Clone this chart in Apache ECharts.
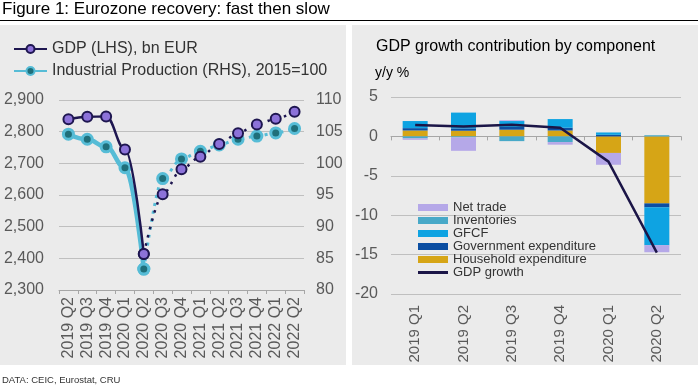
<!DOCTYPE html>
<html><head><meta charset="utf-8">
<script src="https://cdn.jsdelivr.net/npm/echarts@6/dist/echarts.min.js"></script>
<style>html,body{margin:0;padding:0;background:#fff;}#c{width:698px;height:387px;}</style>
</head><body><div id="c"></div>
<script>
// ---- Left chart data ----
const quarters = ['2019 Q2','2019 Q3','2019 Q4','2020 Q1','2020 Q2','2020 Q3','2020 Q4','2021 Q1','2021 Q2','2021 Q3','2021 Q4','2022 Q1','2022 Q2'];
const gdpLevel = [2839, 2847, 2848, 2744, 2414, 2602, 2681, 2721, 2761, 2795, 2823, 2841, 2863];
const ipIndex = [104.6, 103.8, 102.6, 99.3, 83.3, 97.6, 100.7, 101.9, 102.9, 103.8, 104.3, 104.8, 105.5];
const lastActualIndex = 4; // solid up to 2020 Q2, dotted afterwards

// ---- Right chart data ----
const compQuarters = ['2019 Q1','2019 Q2','2019 Q3','2019 Q4','2020 Q1','2020 Q2'];
const household = [0.75, 0.72, 0.85, 0.75, -2.1, -8.5];
const government = [0.3, 0.3, 0.35, 0.35, 0.2, -0.5];
const gfcf = [0.9, 2.0, 0.75, 1.1, 0.3, -4.8];
const inventories = [-0.25, -0.13, -0.6, -0.72, 0, 0.15];
const netTrade = [-0.18, -1.7, 0.1, -0.33, -1.5, -0.9];
const gdpGrowth = [1.45, 1.27, 1.48, 1.1, -3.2, -14.75];

const GDP_NAME = 'GDP (LHS), bn EUR';
const IP_NAME = 'Industrial Production (RHS), 2015=100';

const solidPart = a => a.map((v, i) => i <= lastActualIndex ? v : '-');
const dottedPart = a => a.map((v, i) => i >= lastActualIndex ? v : '-');

const navy = '#1e1650';
const purple = '#8c72d9';
const teal = '#56bcd6';
const darkTeal = '#1f6f7a';
const gridCol = '#bfbfbf';
const axisCol = '#a6a6a6';
const labelCol = '#595959';
const FONT = 'Liberation Sans, Arial, sans-serif';

const chart = echarts.init(document.getElementById('c'));

const gdpMarker = {color: purple, borderColor: navy, borderWidth: 2};
const ipMarker = {color: darkTeal, borderColor: teal, borderWidth: 3};

const option = {
  animation: false,
  textStyle: {fontFamily: FONT},
  graphic: [
    {type: 'rect', z: -100, silent: true, shape: {x: 0, y: 25, width: 346, height: 340}, style: {fill: '#ebebeb'}},
    {type: 'rect', z: -100, silent: true, shape: {x: 352, y: 25, width: 346, height: 340}, style: {fill: '#ebebeb'}},
    {type: 'text', x: 2, y: 1, style: {text: 'Figure 1: Eurozone recovery: fast then slow', font: '17px ' + FONT, fill: '#000'}},
    {type: 'line', shape: {x1: 0, y1: 20.5, x2: 698, y2: 20.5}, style: {stroke: '#000', lineWidth: 1}},
    {type: 'text', x: 375, y: 66, style: {text: 'y/y %', font: '14px ' + FONT, fill: '#000'}},
    {type: 'text', x: 2, y: 375, style: {text: 'DATA: CEIC, Eurostat, CRU', font: '9.5px ' + FONT, fill: '#333'}}
  ],
  title: [{
    text: 'GDP growth contribution by component',
    left: 376, top: 39, padding: 0,
    textStyle: {fontSize: 16, fontWeight: 'normal', color: '#000', fontFamily: FONT}
  }],
  legend: [
    {
      data: [GDP_NAME, IP_NAME],
      orient: 'vertical', left: 13, top: 41, padding: 0,
      itemWidth: 33, itemHeight: 10, itemGap: 6,
      textStyle: {fontSize: 16, color: '#333', fontFamily: FONT}
    },
    {
      data: [
        {name: 'Net trade', icon: 'rect'},
        {name: 'Inventories', icon: 'rect'},
        {name: 'GFCF', icon: 'rect'},
        {name: 'Government expenditure', icon: 'rect'},
        {name: 'Household expenditure', icon: 'rect'},
        {name: 'GDP growth', icon: 'path://M0,0L10,0L10,1L0,1Z'}
      ],
      orient: 'vertical', left: 418, top: 201, padding: 0,
      itemWidth: 30, itemHeight: 7, itemGap: 0,
      textStyle: {fontSize: 13, color: '#333', fontFamily: FONT, lineHeight: 13}
    }
  ],
  grid: [
    {left: 59, width: 245, top: 100, height: 190},
    {left: 391, width: 290, top: 97, height: 197}
  ],
  xAxis: [
    {
      gridIndex: 0, type: 'category', data: quarters, boundaryGap: true,
      axisLine: {lineStyle: {color: axisCol}},
      axisTick: {show: true, interval: 0, length: 4, lineStyle: {color: axisCol}},
      axisLabel: {interval: 0, rotate: 90, fontSize: 16, color: labelCol, margin: 7, fontFamily: FONT}
    },
    {
      gridIndex: 1, type: 'category', data: compQuarters, position: 'bottom',
      axisLine: {show: false, onZero: false},
      axisTick: {show: false},
      axisLabel: {interval: 0, rotate: 90, fontSize: 15, color: labelCol, margin: 11, fontFamily: FONT}
    },
    {
      gridIndex: 1, type: 'category', data: compQuarters, position: 'bottom',
      axisLine: {show: true, onZero: true, lineStyle: {color: axisCol}},
      axisTick: {show: true, interval: 0, length: 4, lineStyle: {color: axisCol}},
      axisLabel: {show: false}
    }
  ],
  yAxis: [
    {
      gridIndex: 0, type: 'value', min: 2300, max: 2900, interval: 100,
      axisLine: {show: false}, axisTick: {show: false},
      splitLine: {lineStyle: {color: gridCol}},
      axisLabel: {fontSize: 16, color: labelCol, margin: 15, fontFamily: FONT,
        formatter: v => v.toLocaleString('en-US')}
    },
    {
      gridIndex: 0, type: 'value', position: 'right', min: 80, max: 110, interval: 5,
      axisLine: {show: false}, axisTick: {show: false}, splitLine: {show: false},
      axisLabel: {fontSize: 16, color: labelCol, margin: 12, fontFamily: FONT}
    },
    {
      gridIndex: 1, type: 'value', min: -20, max: 5, interval: 5,
      axisLine: {show: false}, axisTick: {show: false},
      splitLine: {lineStyle: {color: gridCol}},
      axisLabel: {fontSize: 16, color: labelCol, margin: 13, fontFamily: FONT}
    }
  ],
  series: [
    {
      name: IP_NAME, type: 'line', xAxisIndex: 0, yAxisIndex: 1,
      data: solidPart(ipIndex), smooth: 0.4, smoothMonotone: 'x',
      symbol: 'circle', symbolSize: 10, itemStyle: ipMarker,
      lineStyle: {color: teal, width: 4.5}, z: 3
    },
    {
      name: IP_NAME, type: 'line', xAxisIndex: 0, yAxisIndex: 1,
      data: dottedPart(ipIndex), smooth: 0.3, smoothMonotone: 'x',
      symbol: 'circle', symbolSize: 10, itemStyle: ipMarker,
      lineStyle: {color: teal, width: 3, type: [3, 5]}, z: 3
    },
    {
      name: GDP_NAME, type: 'line', xAxisIndex: 0, yAxisIndex: 0,
      data: solidPart(gdpLevel), smooth: 0.4, smoothMonotone: 'x',
      symbol: 'circle', symbolSize: 10, itemStyle: gdpMarker,
      lineStyle: {color: navy, width: 2.5}, z: 4
    },
    {
      name: GDP_NAME, type: 'line', xAxisIndex: 0, yAxisIndex: 0,
      data: dottedPart(gdpLevel), smooth: 0.3, smoothMonotone: 'x',
      symbol: 'circle', symbolSize: 10, itemStyle: gdpMarker,
      lineStyle: {color: navy, width: 2.5, type: [2.5, 6]}, z: 4
    },
    {name: 'Household expenditure', type: 'bar', stack: 'c', xAxisIndex: 1, yAxisIndex: 2, data: household, barWidth: 25, itemStyle: {color: '#d6a516'}},
    {name: 'Government expenditure', type: 'bar', stack: 'c', xAxisIndex: 1, yAxisIndex: 2, data: government, barWidth: 25, itemStyle: {color: '#0b4ea2'}},
    {name: 'GFCF', type: 'bar', stack: 'c', xAxisIndex: 1, yAxisIndex: 2, data: gfcf, barWidth: 25, itemStyle: {color: '#0ea3e2'}},
    {name: 'Inventories', type: 'bar', stack: 'c', xAxisIndex: 1, yAxisIndex: 2, data: inventories, barWidth: 25, itemStyle: {color: '#48a9c8'}},
    {name: 'Net trade', type: 'bar', stack: 'c', xAxisIndex: 1, yAxisIndex: 2, data: netTrade, barWidth: 25, itemStyle: {color: '#b5a8e8'}},
    {
      name: 'GDP growth', type: 'line', xAxisIndex: 1, yAxisIndex: 2, data: gdpGrowth,
      symbol: 'none', lineStyle: {color: '#1b1547', width: 2.5}, itemStyle: {color: '#1b1547'}, z: 5
    }
  ]
};
chart.setOption(option);
</script>
</body></html>
